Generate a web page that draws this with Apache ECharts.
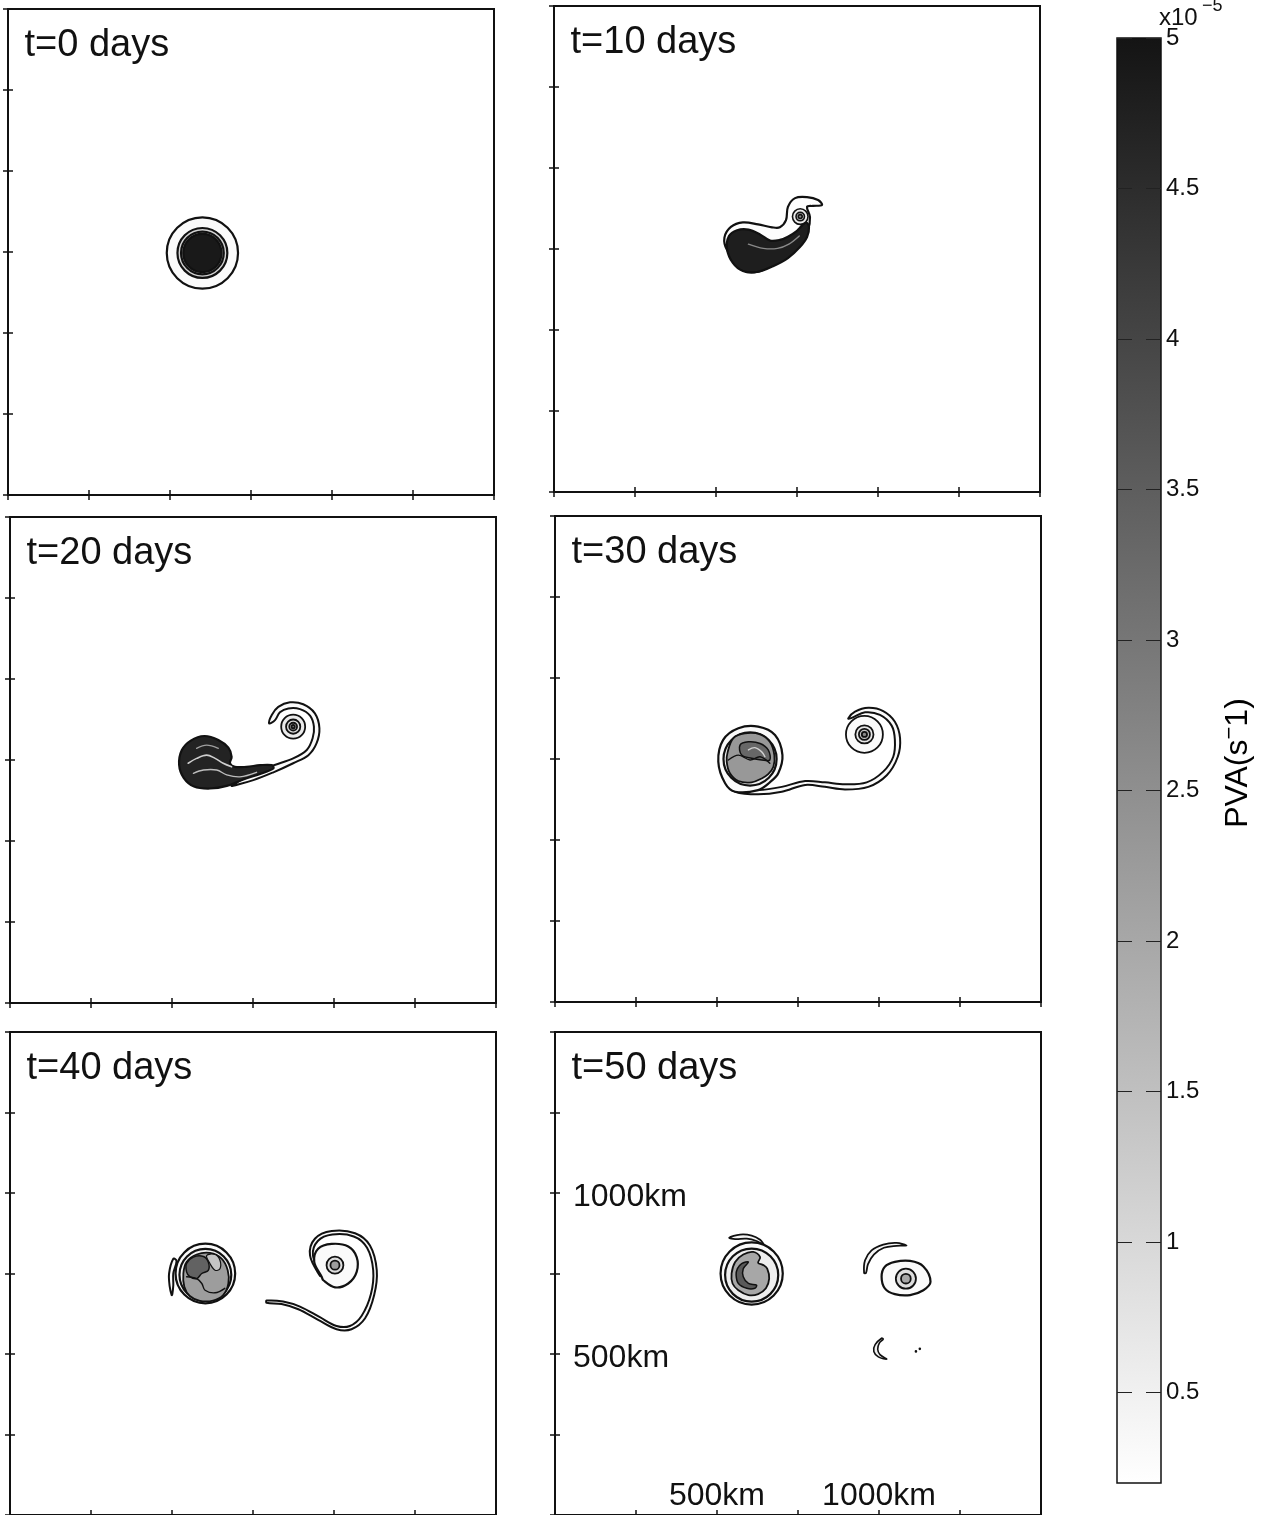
<!DOCTYPE html>
<html>
<head>
<meta charset="utf-8">
<script src="https://cdn.jsdelivr.net/npm/echarts@6/dist/echarts.min.js"></script>
<style>
  html, body { margin: 0; padding: 0; background: #fff; }
  #chart { width: 1268px; height: 1515px; }
</style>
</head>
<body>
<div id="chart"></div>
<script>
// ---------------------------------------------------------------------------
// Domain and scales
// ---------------------------------------------------------------------------
const DOMAIN_KM = [0, 1500];          // every panel covers 1500 km x 1500 km
const TICK_KM = 250;
const kmLabelValues = [500, 1000];    // distances written on the last panel

const panelTitles = ['t=0 days', 't=10 days', 't=20 days', 't=30 days', 't=40 days', 't=50 days'];

const PVA_RANGE = [0.2, 5];           // colour scale, units of 1e-5 s^-1
const colorbarTicks = [0.5, 1, 1.5, 2, 2.5, 3, 3.5, 4, 4.5, 5];

// ---------------------------------------------------------------------------
// Contour data, km. Rings are [x, y, radius, PVA]; outlines are [x, y] lists.
// ---------------------------------------------------------------------------

// t = 0: axisymmetric vortex
const day0Rings = [[600, 747, 110, 0.3], [600, 747, 77, 1.1], [600, 747, 66, 2.0], [600, 747, 59, 4.9]];

// t = 10: vortex sheared into a comma with a small curl
const day10Envelope = [[583, 685], [534, 747], [526, 785], [546, 818], [583, 832], [630, 826], [673, 817],
  [697, 817], [716, 839], [722, 880], [744, 907], [781, 910], [815, 901], [827, 886], [799, 883], [781, 880],
  [790, 849], [784, 809], [759, 762], [722, 725], [676, 701], [626, 679]];
const day10Core = [[540, 790], [565, 808], [600, 810], [636, 795], [667, 776], [697, 778], [722, 788],
  [750, 806], [765, 822], [778, 832], [787, 818], [781, 787], [759, 756], [722, 722], [676, 697], [626, 679],
  [583, 682], [552, 707], [534, 750]];
const day10Streak = [[600, 765], [646, 752], [690, 752], [725, 765], [757, 790]];
const day10Curl = [[760, 850, 24, 0.6], [760, 850, 13, 1.4], [760, 850, 6, 2.5]];

// t = 20: core plus trailing filament rolling up
const day20FilamentOuter = [[684, 671], [751, 688], [813, 712], [874, 740], [921, 765], [946, 801], [955, 848],
  [941, 894], [905, 922], [864, 928], [828, 914], [808, 889], [800, 863]];
const day20FilamentInner = [[802, 729], [874, 755], [916, 781], [934, 817], [938, 853], [926, 887], [895, 907],
  [859, 909], [833, 897], [818, 873]];
const day20Core = [[522, 735], [530, 780], [558, 810], [600, 824], [643, 812], [674, 788], [684, 760], [679, 740],
  [694, 729], [730, 729], [772, 734], [808, 734], [813, 724], [772, 707], [720, 690], [669, 670], [617, 662],
  [568, 668], [536, 695]];
const day20StreakA = [[550, 740], [576, 755], [607, 765], [633, 755], [658, 740], [684, 729]];
const day20StreakB = [[566, 709], [597, 719], [638, 719], [669, 704], [710, 698], [761, 712]];
const day20StreakC = [[576, 786], [607, 796], [643, 786]];
const day20Curl = [[874, 853, 37, 0.6], [874, 853, 22, 0.9], [874, 853, 12, 1.6], [874, 853, 5, 2.6]];

// t = 30: two vortices joined by a filament
const day30Outer = [[556, 649], [525, 675], [504, 742], [519, 809], [566, 845], [627, 850], [679, 824],
  [702, 762], [689, 706], [663, 678], [627, 654]];
const day30Ring = [[602, 750, 82, 0.55]];
const day30Patch = [[533, 772], [550, 814], [586, 829], [633, 826], [663, 803], [677, 762], [674, 726],
  [658, 703], [638, 690], [607, 678], [566, 682], [540, 706], [530, 742]];
const day30Dark = [[571, 793], [597, 803], [633, 798], [658, 778], [663, 747], [638, 747], [607, 752], [576, 762]];
const day30Wave = [[535, 747], [566, 762], [602, 747], [633, 757], [663, 737]];
const day30Streak = [[597, 778], [617, 785], [638, 772], [648, 757]];
const day30FilamentOuter = [[556, 649], [627, 641], [700, 649], [772, 670], [833, 664], [895, 656], [967, 664],
  [1024, 700], [1058, 757], [1065, 814], [1049, 865], [1013, 898], [967, 908], [926, 896], [905, 875]];
const day30FilamentInner = [[576, 659], [627, 654], [700, 664], [772, 682], [833, 678], [895, 672], [962, 678],
  [1013, 711], [1044, 757], [1049, 809], [1039, 853], [1003, 886], [957, 894], [916, 877]];
const day30Curl = [[955, 826, 57, 0.3], [955, 826, 28, 0.7], [955, 826, 17, 1.4], [955, 826, 8, 2.6]];

// t = 40
const day40Rings = [[603, 750, 92, 0.3], [603, 746, 80, 0.5]];
const day40HookOuter = [[504, 796], [491, 750], [493, 709], [499, 683]];
const day40HookInner = [[514, 789], [504, 750], [504, 714], [501, 686]];
const day40Patch = [[535, 750], [545, 786], [576, 809], [617, 814], [653, 796], [672, 760], [674, 719],
  [658, 683], [627, 666], [586, 665], [555, 680], [538, 709]];
const day40Dark = [[545, 781], [566, 801], [597, 803], [612, 786], [612, 760], [592, 750], [576, 734],
  [555, 740], [545, 755]];
const day40Light = [[607, 806], [633, 809], [648, 791], [648, 765], [633, 760], [617, 781]];
const day40Wave = [[545, 740], [576, 734], [592, 719], [602, 698], [633, 690], [663, 704]];
const day40SpiralOuter = [[957, 742], [926, 806], [941, 858], [993, 882], [1065, 875], [1111, 837], [1132, 760],
  [1124, 683], [1096, 611], [1054, 577], [1008, 577], [951, 606], [890, 639], [838, 655], [792, 659]];
const day40SpiralInner = [[962, 745], [935, 806], [950, 851], [995, 871], [1061, 865], [1102, 830], [1121, 760],
  [1114, 686], [1085, 618], [1049, 587], [1008, 587], [955, 615], [895, 647], [843, 663], [792, 666]];
const day40Loop = [[962, 740], [939, 786], [951, 827], [993, 842], [1044, 834], [1070, 801], [1070, 755],
  [1044, 719], [1003, 707], [967, 729]];
const day40Curl = [[1003, 776, 26, 0.9], [1003, 776, 14, 2.2]];

// t = 50
const day50Rings = [[607, 750, 96, 0.3], [607, 745, 82, 0.55]];
const day50Patch = [[545, 750], [556, 786], [581, 809], [612, 817], [633, 801], [627, 783], [643, 776],
  [655, 765], [661, 734], [651, 704], [627, 686], [597, 683], [566, 698], [548, 719]];
const day50Comma = [[576, 781], [597, 786], [581, 765], [581, 740], [597, 719], [622, 714], [617, 704],
  [592, 704], [566, 719], [559, 745], [563, 765]];
const day50ArcLeft = [[538, 861], [571, 871], [607, 868], [633, 855], [643, 840], [622, 851], [592, 858], [556, 857]];
const day50Eye = [[1008, 740], [1018, 771], [1049, 786], [1096, 789], [1137, 772], [1159, 724], [1137, 698],
  [1096, 683], [1049, 686], [1018, 704]];
const day50EyeRings = [[1083, 734, 31, 0.9], [1083, 734, 15, 2.0]];
const day50ArcRight = [[954, 752], [957, 791], [977, 822], [1013, 840], [1054, 845], [1085, 837], [1054, 836],
  [1015, 830], [984, 809], [966, 779], [960, 752]];
const day50Crescent = [[1008, 549], [988, 529], [984, 508], [998, 491], [1024, 484], [1003, 498], [996, 515],
  [1001, 534], [1013, 546]];
const day50Dots = [[1114, 508], [1126, 516]];

// ---------------------------------------------------------------------------
// Layout (px) and styling
// ---------------------------------------------------------------------------
const FONT = '"Liberation Sans", Arial, Helvetica, sans-serif';
const INK = '#111';
const PANEL_SIZE = 486;
const panelBoxes = [[8, 9], [554, 6], [10, 517], [555, 516], [10, 1032], [555, 1032]];
const COLORBAR_BOX = { left: 1117, top: 38, width: 44, height: 1445 };

// inverted grey scale: low PVA white, high PVA black
function pvaColor(v) {
  const t = Math.min(1, Math.max(0, (v - PVA_RANGE[0]) / (PVA_RANGE[1] - PVA_RANGE[0])));
  const g = Math.round(255 - t * 235);
  return 'rgb(' + g + ',' + g + ',' + g + ')';
}

const patch = (pts, pva, lw = 2.2) => ({ kind: 'patch', pts, pva, lw });
const band = (outer, inner, pva) => patch(outer.concat(inner.slice().reverse()), pva, 2);
const line = (pts, color, lw) => ({ kind: 'line', pts, color, lw });
const rings = (list, lw = 2.2) => list.map(([x, y, r, pva]) => ({ kind: 'ring', x, y, r, pva, lw }));
const dots = (list) => list.map(([x, y]) => ({ kind: 'dot', x, y }));

// drawing order inside each panel: outer contours first, darker cores last
const panelLayers = [
  rings(day0Rings),
  [patch(day10Envelope, 0.25), patch(day10Core, 4.8), line(day10Streak, '#8a8a8a', 1.4), ...rings(day10Curl, 1.6)],
  [band(day20FilamentOuter, day20FilamentInner, 0.3), ...rings(day20Curl, 1.8), patch(day20Core, 4.7),
    line(day20StreakA, '#cfcfcf', 1.6), line(day20StreakB, '#bdbdbd', 1.4), line(day20StreakC, '#a0a0a0', 1.3)],
  [band(day30FilamentOuter, day30FilamentInner, 0.3), patch(day30Outer, 0.3), ...rings(day30Ring),
    patch(day30Patch, 2.3, 1.8), patch(day30Dark, 3.3, 1.5), line(day30Wave, INK, 1.4),
    line(day30Streak, '#d0d0d0', 1.4), ...rings(day30Curl, 1.8)],
  [band(day40HookOuter, day40HookInner, 0.3), ...rings(day40Rings), patch(day40Patch, 2.2, 1.8),
    patch(day40Dark, 3.4, 1.5), patch(day40Light, 1.4, 1.2), line(day40Wave, INK, 1.4),
    band(day40SpiralOuter, day40SpiralInner, 0.3), patch(day40Loop, 0.3), ...rings(day40Curl, 1.8)],
  [patch(day50ArcLeft, 0.4, 1.8), ...rings(day50Rings), patch(day50Patch, 2.0, 1.8), patch(day50Comma, 3.6, 1.5),
    patch(day50Eye, 0.3), ...rings(day50EyeRings, 1.8), patch(day50ArcRight, 0.4, 1.8),
    patch(day50Crescent, 0.5, 1.6), ...dots(day50Dots)]
];

function layerElement(layer, api) {
  if (layer.kind === 'ring' || layer.kind === 'dot') {
    const c = api.coord([layer.x, layer.y]);
    if (layer.kind === 'dot') {
      return { type: 'circle', shape: { cx: c[0], cy: c[1], r: 1.3 }, style: { fill: INK } };
    }
    const r = api.size([layer.r, layer.r])[0];
    return { type: 'circle', shape: { cx: c[0], cy: c[1], r },
      style: { fill: pvaColor(layer.pva), stroke: INK, lineWidth: layer.lw } };
  }
  const points = layer.pts.map(p => api.coord(p));
  if (layer.kind === 'patch') {
    return { type: 'polygon', shape: { points, smooth: 0.35 },
      style: { fill: pvaColor(layer.pva), stroke: INK, lineWidth: layer.lw, lineJoin: 'round' } };
  }
  return { type: 'polyline', shape: { points, smooth: 0.35 },
    style: { fill: null, stroke: layer.color, lineWidth: layer.lw, lineCap: 'round' } };
}

const layerAnchor = (l) => (l.pts ? l.pts[0] : [l.x, l.y]);

// ---------------------------------------------------------------------------
// Build the option
// ---------------------------------------------------------------------------
const grids = [], xAxes = [], yAxes = [], series = [], graphics = [];

const kmLabel = (v) => (kmLabelValues.includes(v) ? v + 'km' : '');

panelBoxes.forEach(([left, top], i) => {
  grids.push({ left, top, width: PANEL_SIZE, height: PANEL_SIZE, show: true,
    borderColor: INK, borderWidth: 2, backgroundColor: '#fff' });

  const axisBase = {
    type: 'value', gridIndex: i, min: DOMAIN_KM[0], max: DOMAIN_KM[1], interval: TICK_KM,
    splitLine: { show: false }, axisLine: { show: false },
    axisTick: { show: true, inside: true, length: 5, lineStyle: { color: INK, width: 1.5 } },
    axisLabel: { show: false }
  };
  const labelled = i === panelBoxes.length - 1;
  const kmText = { show: true, inside: true, formatter: kmLabel, color: INK, fontSize: 32, fontFamily: FONT };

  xAxes.push({ ...axisBase, position: 'bottom', axisLabel: labelled ? { ...kmText, margin: 3 } : { show: false } });
  xAxes.push({ ...axisBase, position: 'top' });
  yAxes.push({ ...axisBase, position: 'left',
    axisLabel: labelled ? { ...kmText, margin: 18, verticalAlign: 'top', lineHeight: 8 } : { show: false } });
  yAxes.push({ ...axisBase, position: 'right' });

  const layers = panelLayers[i];
  series.push({
    type: 'custom', name: panelTitles[i], xAxisIndex: 2 * i, yAxisIndex: 2 * i, silent: true,
    data: layers.map(layerAnchor),
    renderItem: (params, api) => layerElement(layers[params.dataIndex], api)
  });

  graphics.push({ type: 'text', x: left + 16.5, y: top + 37,
    style: { text: panelTitles[i], fill: INK, font: '38px ' + FONT, verticalAlign: 'middle', align: 'left' } });
});

// colour bar: its own grid and axis pair
const cbGrid = grids.length;
const cbX = xAxes.length;
const cbY = yAxes.length;
grids.push({ ...COLORBAR_BOX, show: true, borderColor: INK, borderWidth: 1.5, z: 10 });
xAxes.push({ type: 'value', gridIndex: cbGrid, min: 0, max: 1, show: false });
const cbAxis = {
  type: 'value', gridIndex: cbGrid, min: PVA_RANGE[0], max: PVA_RANGE[1], z: 10,
  splitLine: { show: false }, axisLine: { show: false },
  axisTick: { show: true, inside: true, length: 15, customValues: colorbarTicks, lineStyle: { color: '#222', width: 1 } }
};
yAxes.push({ ...cbAxis, position: 'left', axisLabel: { show: false } });
yAxes.push({ ...cbAxis, position: 'right',
  axisLabel: { show: true, customValues: colorbarTicks, margin: 5, color: INK, fontSize: 24, fontFamily: FONT,
    formatter: (v) => String(v) } });

series.push({
  type: 'custom', name: 'PVA', xAxisIndex: cbX, yAxisIndex: cbY, silent: true, z: 1,
  data: [[0, PVA_RANGE[0]]],
  renderItem: (params, api) => {
    const lo = api.coord([0, PVA_RANGE[0]]);
    const hi = api.coord([1, PVA_RANGE[1]]);
    return {
      type: 'rect',
      shape: { x: lo[0], y: hi[1], width: hi[0] - lo[0], height: lo[1] - hi[1] },
      style: {
        fill: new echarts.graphic.LinearGradient(0, 1, 0, 0, [
          { offset: 0, color: pvaColor(PVA_RANGE[0]) },
          { offset: 0.5, color: pvaColor((PVA_RANGE[0] + PVA_RANGE[1]) / 2) },
          { offset: 1, color: pvaColor(PVA_RANGE[1]) }
        ])
      }
    };
  }
});

// colour bar multiplier and quantity label
graphics.push({ type: 'text', x: 1159, y: 18,
  style: { text: 'x10', fill: INK, font: '24px ' + FONT, verticalAlign: 'middle', align: 'left' } });
graphics.push({ type: 'text', x: 1202, y: 6,
  style: { text: '\u22125', fill: INK, font: '18px ' + FONT, verticalAlign: 'middle', align: 'left' } });
graphics.push({ type: 'text', x: 1238, y: 763, rotation: Math.PI / 2,
  style: {
    text: '{a|PVA(s}{b|\u2212}{a|1)}', align: 'center', verticalAlign: 'middle',
    rich: {
      a: { fontSize: 32, fontFamily: FONT, color: INK, lineHeight: 38 },
      b: { fontSize: 22, fontFamily: FONT, color: INK, lineHeight: 38, verticalAlign: 'top' }
    }
  } });

const chart = echarts.init(document.getElementById('chart'), null, { renderer: 'canvas' });
chart.setOption({
  animation: false,
  backgroundColor: '#fff',
  grid: grids,
  xAxis: xAxes,
  yAxis: yAxes,
  series,
  graphic: graphics
});
</script>
</body>
</html>
